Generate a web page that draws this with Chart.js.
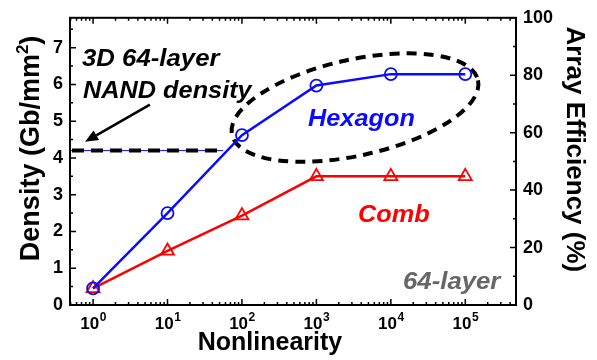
<!DOCTYPE html>
<html>
<head>
<meta charset="utf-8">
<script src="https://cdn.jsdelivr.net/npm/chart.js@4.4.1/dist/chart.umd.min.js"></script>
<style>
  html, body { margin: 0; padding: 0; background: #fff; }
  canvas { display: block; }
</style>
</head>
<body>
<canvas id="chart" width="597" height="360"></canvas>
<script>
// data
const nonlinearity = [1, 10, 100, 1000, 10000, 100000];
const hexagonDensity = [0.45, 2.5, 4.62, 5.97, 6.28, 6.28];
const combDensity = [0.45, 1.47, 2.43, 3.5, 3.5, 3.5];

const xTicks = [1, 10, 100, 1000, 10000, 100000];
const densityTicks = [0, 1, 2, 3, 4, 5, 6, 7];
const efficiencyTicks = [0, 20, 40, 60, 80, 100];

const densityMax = 7.8125;   // 6.25 Gb/mm2 == 80 %
const nandDensity = 4.2;     // 3D 64-layer NAND
const nandLineEnd = 56;      // dashed line stops just before the ellipse
const ellipseCenter = { x: 3300, y: 5.37 };
const arrowFrom = { x: 5.8, y: 5.45 };
const arrowTo = { x: 0.78, y: 4.44 };

const FONT = '"Liberation Sans", Arial, Helvetica, sans-serif';
const BLUE = '#0a0aff';
const RED = '#ff0000';

function stretchText(ctx, txt, x, y, font, color, sx) {
    ctx.save();
    ctx.font = font;
    ctx.fillStyle = color;
    ctx.textAlign = 'left';
    ctx.textBaseline = 'alphabetic';
    ctx.translate(x, y);
    ctx.scale(sx, 1);
    ctx.fillText(txt, 0, 0);
    ctx.restore();
}

// vertical title, parts = [[text, size, rise], ...], centred on (cx, cy)
function verticalTitle(ctx, parts, cx, cy, rot) {
    ctx.save();
    ctx.fillStyle = '#000';
    ctx.textAlign = 'left';
    ctx.textBaseline = 'alphabetic';
    let total = 0;
    parts.forEach(p => { ctx.font = 'bold ' + p[1] + 'px ' + FONT; total += ctx.measureText(p[0]).width; });
    ctx.translate(cx, cy);
    ctx.rotate(rot);
    let pos = -total / 2;
    const base = parts[0][1] * 0.35;
    parts.forEach(p => {
        ctx.font = 'bold ' + p[1] + 'px ' + FONT;
        ctx.fillText(p[0], pos, base - p[2]);
        pos += ctx.measureText(p[0]).width;
    });
    ctx.restore();
}

// frame, inward ticks, x tick labels, axis titles
const framePlugin = {
    id: 'frame',
    afterDraw(chart) {
        const { ctx, chartArea: a, scales } = chart;
        const x = scales.x, y = scales.y, y1 = scales.y1;
        ctx.save();
        ctx.strokeStyle = '#000';
        ctx.lineWidth = 2;
        ctx.strokeRect(a.left, a.top, a.right - a.left, a.bottom - a.top);

        ctx.lineWidth = 1.5;
        ctx.beginPath();
        // log ticks on bottom and top
        const lo = Math.floor(Math.log10(x.min)), hi = Math.ceil(Math.log10(x.max));
        for (let e = lo; e <= hi; e++) {
            for (let k = 1; k <= 9; k++) {
                const v = k * Math.pow(10, e);
                if (v < x.min || v > x.max) continue;
                const px = x.getPixelForValue(v);
                const len = k === 1 ? 6 : 3;
                ctx.moveTo(px, a.bottom); ctx.lineTo(px, a.bottom - len);
                ctx.moveTo(px, a.top); ctx.lineTo(px, a.top + len);
            }
        }
        // left axis
        for (let v = 0; v <= densityMax; v += 0.5) {
            const py = y.getPixelForValue(v);
            const len = v % 1 === 0 ? 6 : 3;
            ctx.moveTo(a.left, py); ctx.lineTo(a.left + len, py);
        }
        // right axis
        for (let v = 0; v <= 100; v += 10) {
            const py = y1.getPixelForValue(v);
            const len = v % 20 === 0 ? 6 : 3;
            ctx.moveTo(a.right, py); ctx.lineTo(a.right - len, py);
        }
        ctx.stroke();

        // 10^n labels
        ctx.fillStyle = '#000';
        ctx.textBaseline = 'alphabetic';
        ctx.textAlign = 'left';
        xTicks.forEach(v => {
            const px = x.getPixelForValue(v);
            const exp = String(Math.round(Math.log10(v)));
            ctx.font = 'bold 17px ' + FONT;
            const wb = ctx.measureText('10').width;
            ctx.font = 'bold 12px ' + FONT;
            const ws = ctx.measureText(exp).width;
            const sx = px - (wb + ws) / 2;
            ctx.font = 'bold 17px ' + FONT;
            ctx.fillText('10', sx, a.bottom + 24);
            ctx.font = 'bold 12px ' + FONT;
            ctx.fillText(exp, sx + wb + 0.5, a.bottom + 16);
        });

        ctx.font = 'bold 25px ' + FONT;
        ctx.textAlign = 'center';
        ctx.fillText('Nonlinearity', (a.left + a.right) / 2 - 23, a.bottom + 45);
        ctx.restore();

        const midY = (a.top + a.bottom) / 2 - 13;
        verticalTitle(ctx, [['Density (Gb/mm', 27, 0], ['2', 17, 11], [')', 27, 0]], 30, midY, -Math.PI / 2);
        verticalTitle(ctx, [['Array Efficiency (%)', 26, 0]], 576, midY + 1, Math.PI / 2);
    }
};

// dashed line, ellipse, arrow and the in-plot labels
const notesPlugin = {
    id: 'notes',
    beforeDatasetsDraw(chart) {
        const { ctx, chartArea: a, scales } = chart;
        const x = scales.x, y = scales.y;
        ctx.save();
        const ny = y.getPixelForValue(nandDensity);
        const nx = x.getPixelForValue(nandLineEnd);
        ctx.strokeStyle = BLUE;
        ctx.lineWidth = 1;
        ctx.beginPath(); ctx.moveTo(a.left, ny); ctx.lineTo(nx, ny); ctx.stroke();
        ctx.strokeStyle = '#000';
        ctx.lineWidth = 4;
        ctx.setLineDash([12, 7]);
        ctx.beginPath(); ctx.moveTo(a.left + 2, ny); ctx.lineTo(nx, ny); ctx.stroke();

        // ellipse
        const ex = x.getPixelForValue(ellipseCenter.x);
        const ey = y.getPixelForValue(ellipseCenter.y);
        ctx.setLineDash([10, 7]);
        ctx.beginPath();
        ctx.ellipse(ex, ey, 126, 48, -12.5 * Math.PI / 180, 0, Math.PI * 2);
        ctx.stroke();
        ctx.setLineDash([]);

        // arrow
        const x0 = x.getPixelForValue(arrowFrom.x), y0 = y.getPixelForValue(arrowFrom.y);
        const x1 = x.getPixelForValue(arrowTo.x), y1 = y.getPixelForValue(arrowTo.y);
        const ang = Math.atan2(y1 - y0, x1 - x0);
        const hl = 13, hw = 5.5;
        ctx.lineWidth = 2.5;
        ctx.beginPath();
        ctx.moveTo(x0, y0);
        ctx.lineTo(x1 - hl * Math.cos(ang), y1 - hl * Math.sin(ang));
        ctx.stroke();
        ctx.fillStyle = '#000';
        ctx.beginPath();
        ctx.moveTo(x1, y1);
        ctx.lineTo(x1 - hl * Math.cos(ang) + hw * Math.sin(ang), y1 - hl * Math.sin(ang) - hw * Math.cos(ang));
        ctx.lineTo(x1 - hl * Math.cos(ang) - hw * Math.sin(ang), y1 - hl * Math.sin(ang) + hw * Math.cos(ang));
        ctx.closePath();
        ctx.fill();
        ctx.restore();

        const f = 'italic bold 23px ' + FONT;
        stretchText(ctx, '3D 64-layer', a.left + 12, a.top + 48, f, '#000', 1.12);
        stretchText(ctx, 'NAND density', a.left + 13, a.top + 80, f, '#000', 1.1);
        stretchText(ctx, 'Hexagon', 308, 126, f, BLUE, 1.1);
        stretchText(ctx, 'Comb', 358, 222, f, RED, 1.1);
        stretchText(ctx, '64-layer', 403, 289, f, '#666666', 1.12);
    }
};

new Chart(document.getElementById('chart'), {
    type: 'line',
    data: {
        labels: nonlinearity,
        datasets: [
            {
                label: 'Hexagon',
                data: nonlinearity.map((v, i) => ({ x: v, y: hexagonDensity[i] })),
                borderColor: BLUE,
                backgroundColor: 'rgba(0,0,0,0)',
                borderWidth: 2.5,
                pointStyle: 'circle',
                pointRadius: 6,
                pointBorderWidth: 1.8,
                pointBorderColor: BLUE,
                pointBackgroundColor: 'rgba(0,0,0,0)',
                yAxisID: 'y'
            },
            {
                label: 'Comb',
                data: nonlinearity.map((v, i) => ({ x: v, y: combDensity[i] })),
                borderColor: RED,
                backgroundColor: 'rgba(0,0,0,0)',
                borderWidth: 2.5,
                pointStyle: 'triangle',
                pointRadius: 7.5,
                pointBorderWidth: 1.8,
                pointBorderColor: RED,
                pointBackgroundColor: 'rgba(0,0,0,0)',
                yAxisID: 'y'
            }
        ]
    },
    options: {
        responsive: false,
        animation: false,
        devicePixelRatio: 1,
        layout: { padding: { top: 17, left: 0, right: 0, bottom: 0 } },
        plugins: { legend: { display: false }, tooltip: { enabled: false } },
        scales: {
            x: {
                type: 'logarithmic',
                min: 0.49,
                max: 480000,
                grid: { display: false },
                border: { display: false },
                ticks: { display: false },
                afterBuildTicks: s => { s.ticks = xTicks.map(v => ({ value: v })); },
                afterFit: s => { s.height = 55; }
            },
            y: {
                type: 'linear',
                position: 'left',
                min: 0,
                max: densityMax,
                grid: { display: false, drawTicks: false },
                border: { display: false },
                afterBuildTicks: s => { s.ticks = densityTicks.map(v => ({ value: v })); },
                ticks: { color: '#000', padding: 7, font: { family: FONT, size: 18, weight: 'bold' } },
                afterFit: s => { s.width = 70; }
            },
            y1: {
                type: 'linear',
                position: 'right',
                min: 0,
                max: 100,
                grid: { display: false, drawTicks: false },
                border: { display: false },
                afterBuildTicks: s => { s.ticks = efficiencyTicks.map(v => ({ value: v })); },
                ticks: { color: '#000', padding: 7, font: { family: FONT, size: 18, weight: 'bold' } },
                afterFit: s => { s.width = 81; }
            }
        }
    },
    plugins: [notesPlugin, framePlugin]
});
</script>
</body>
</html>
